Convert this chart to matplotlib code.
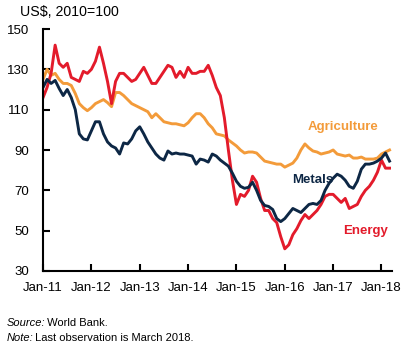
import matplotlib.pyplot as plt

# Monthly index values, Jan-2011 .. Mar-2018 (US$, 2010=100)
energy = [116, 121, 128, 142, 133, 131, 133, 126, 125, 124, 129, 128,
          130, 134, 141, 133, 124, 113, 124, 128, 128, 126, 124, 125,
          128, 131, 127, 123, 123, 126, 129, 132, 131, 126, 129, 126,
          131, 128, 128, 129, 129, 132, 127, 121, 117, 106, 90, 75,
          63, 68, 67, 70, 77, 74, 66, 60, 60, 56, 54, 47,
          41, 43, 48, 51, 55, 58, 56, 58, 60, 63, 67, 68,
          68, 66, 64, 66, 61, 62, 63, 67, 70, 72, 75, 79,
          85, 81, 81]
agriculture = [125, 130, 127, 128, 125, 123, 123, 122, 118, 113, 111, 109.5,
               111, 113, 114, 115, 113.5, 111.5, 118.5, 118.5, 117, 115, 113, 112,
               111, 110, 109, 106, 108, 106, 104, 103.5, 103, 103, 102.5, 102,
               103.5, 106, 108, 108, 106, 103, 101, 98, 97.5, 97, 95, 93.5,
               92, 90, 88.5, 89, 89, 88.5, 86.5, 84.5, 84, 83.5, 83, 83,
               81.5, 82.5, 83.5, 86, 90, 93, 91, 89.5, 89, 88, 88.5, 89,
               90, 88, 87.5, 87, 87.5, 86, 86, 86.5, 85.5, 85.5, 85.5, 86,
               88, 89, 90]
metals = [121, 125, 123, 124.5, 120.5, 117, 120, 116, 110, 98, 95.5, 95,
          99.5, 104, 104, 98, 94, 92, 91, 88, 93.5, 93, 95.5, 99.5,
          101.5, 98, 94, 91, 88, 86, 85, 89.5, 88, 88.5, 88, 88,
          87.5, 87, 83, 85.5, 85, 84, 88, 87, 85, 83.5, 82, 78.5,
          74.5, 72, 71, 71.5, 74, 70, 65, 62.5, 62, 60.5, 56, 54.5,
          56, 58.5, 61, 60, 59, 61, 63, 63.5, 63, 65, 70, 73.5,
          76, 78, 77, 75, 72, 71, 74.5, 80.5, 83, 83, 83.5, 84.5,
          86, 88.5, 84.5]

years = ['Jan-11', 'Jan-12', 'Jan-13', 'Jan-14', 'Jan-15', 'Jan-16', 'Jan-17', 'Jan-18']
yticks = [30, 50, 70, 90, 110, 130, 150]

red = '#E31B2B'
orange = '#F39B3A'
navy = '#0D2745'

plt.rcParams['font.family'] = ['Liberation Sans', 'DejaVu Sans']

fig = plt.figure(figsize=(4.10, 3.49), dpi=100)
ax = fig.add_axes([0.105, 0.2235, 0.85, 0.6934])

months = range(len(energy))
ax.plot(months, agriculture, color=orange, lw=2.1, solid_joinstyle='round')
ax.plot(months, energy, color=red, lw=2.1, solid_joinstyle='round')
ax.plot(months, metals, color=navy, lw=2.1, solid_joinstyle='round')

ax.set_xlim(0, 86.5)
ax.set_ylim(30, 150)
ax.set_xticks(range(0, 85, 12))
ax.set_xticklabels(years)
ax.set_yticks(yticks)

for s in ['top', 'right']:
    ax.spines[s].set_visible(False)
for s in ['left', 'bottom']:
    ax.spines[s].set_linewidth(1.5)
ax.tick_params(axis='both', direction='in', length=5, width=1.5, labelsize=9.5)
ax.tick_params(axis='y', pad=10)
ax.tick_params(axis='x', pad=8)

ax.text(65.7, 101.5, 'Agriculture', color=orange, fontsize=9.5, fontweight='bold', va='center')
ax.text(61.8, 75, 'Metals', color=navy, fontsize=9.5, fontweight='bold', va='center')
ax.text(74.5, 50, 'Energy', color=red, fontsize=9.5, fontweight='bold', va='center')

fig.text(0.05, 0.965, 'US$, 2010=100', fontsize=10.2, va='center')

# footnotes: italic lead-in followed by plain text
renderer = fig.canvas.get_renderer()
for y, lead, rest in [(0.074, 'Source:', ' World Bank.'),
                      (0.031, 'Note:', ' Last observation is March 2018.')]:
    t = fig.text(0.017, y, lead, fontsize=8, style='italic', va='center')
    bb = t.get_window_extent(renderer)
    fig.text(bb.x1 / fig.bbox.width - 0.004, y, rest, fontsize=8, va='center')

fig.savefig('out.png', dpi=100)
